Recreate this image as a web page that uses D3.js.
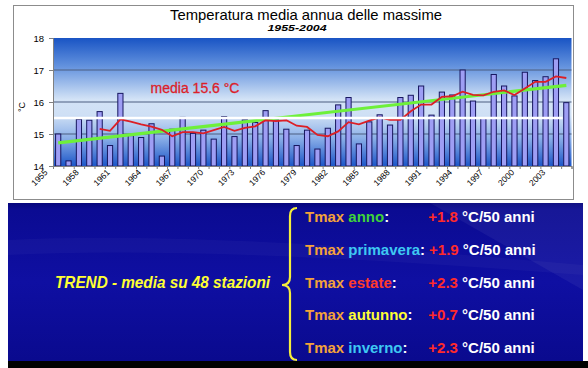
<!DOCTYPE html>
<html><head><meta charset="utf-8">
<script src="https://cdn.jsdelivr.net/npm/d3@7"></script>
<style>body{margin:0;background:#fff}svg{display:block}text{font-family:"Liberation Sans",Arial,sans-serif}</style>
</head><body><svg id="c" width="588" height="368"></svg>
<script>
const years = [1955,1956,1957,1958,1959,1960,1961,1962,1963,1964,1965,1966,1967,1968,1969,1970,1971,1972,1973,1974,1975,1976,1977,1978,1979,1980,1981,1982,1983,1984,1985,1986,1987,1988,1989,1990,1991,1992,1993,1994,1995,1996,1997,1998,1999,2000,2001,2002,2003,2004];
const tmax = [15.00,14.16,15.46,15.43,15.70,14.64,16.27,14.95,14.89,15.32,14.31,15.15,15.52,15.02,15.12,14.84,15.54,14.92,15.44,15.36,15.73,15.44,15.15,14.64,15.12,14.53,15.18,15.91,16.14,14.69,15.38,15.60,15.28,16.14,16.21,16.50,15.59,16.31,16.22,17.00,16.03,15.50,16.86,16.50,16.19,16.93,16.67,16.79,17.35,15.98];
const maYears = [1959,1960,1961,1962,1963,1964,1965,1966,1967,1968,1969,1970,1971,1972,1973,1974,1975,1976,1977,1978,1979,1980,1981,1982,1983,1984,1985,1986,1987,1988,1989,1990,1991,1992,1993,1994,1995,1996,1997,1998,1999,2000,2001,2002,2003,2004];
const tmaxMA = [15.16,15.10,15.46,15.39,15.30,15.23,15.13,14.93,15.06,15.06,15.02,15.12,15.22,15.10,15.19,15.24,15.43,15.40,15.43,15.26,15.22,14.97,14.93,15.08,15.37,15.30,15.42,15.52,15.44,15.44,15.71,15.92,15.92,16.16,16.18,16.32,16.22,16.21,16.32,16.36,16.22,16.42,16.63,16.63,16.80,16.75];
const trendYears = [1955,2004];
const trendVals = [14.72,16.52];
const meanVal = 15.5;
const yTicks = [14,15,16,17,18];
const xTickLabels = ["1955","1958","1961","1964","1967","1970","1973","1976","1979","1982","1985","1988","1991","1994","1997","2000","2003"];
const titleText = "Temperatura media annua delle massime";
const subtitleText = "1955-2004";
const meanLabel = "media 15.6 °C";
const yTitle = "°C";
const trendTitle = "TREND - media su 48 stazioni";
const seasons = ["anno","primavera","estate","autunno","inverno"];
const seasonTrends = ["+1.8","+1.9","+2.3","+0.7","+2.3"];
const seasonColors = ["#3fd43a","#3ec8f2","#ff3b2b","#ffff33","#3ec8f2"];
const unitText = "°C/50 anni";

const svg = d3.select("#c");
const defs = svg.append("defs");
const g1 = defs.append("linearGradient").attr("id","plotBg").attr("x1",0).attr("y1",0).attr("x2",0).attr("y2",1);
[[0,"#1954c4"],[0.22,"#6392de"],[0.48,"#d3e3f6"],[0.6,"#cfe0f5"],[0.78,"#8cb0e8"],[1,"#1c56c8"]].forEach(([o,c])=>g1.append("stop").attr("offset",o).attr("stop-color",c));
const g2 = defs.append("linearGradient").attr("id","panelBg").attr("x1",0).attr("y1",0).attr("x2",0).attr("y2",1);
[[0,"#06067c"],[0.04,"#0b0b92"],[0.5,"#0f0fa2"],[1,"#0a0a8e"]].forEach(([o,c])=>g2.append("stop").attr("offset",o).attr("stop-color",c));

const L=53, R=571.5, T=38, B=166;

svg.append("rect").attr("x",13.5).attr("y",5.5).attr("width",560).attr("height",194)
  .attr("fill","#fff").attr("stroke","#8c8c8c");

const x = d3.scaleBand().domain(years).range([L,R]).paddingInner(0.5).paddingOuter(0.25);
const xl = d3.scaleLinear().domain([0,years.length]).range([L,R]);
const y = d3.scaleLinear().domain([14,18]).range([B,T]);
const cx = d => x(d)+x.bandwidth()/2;

svg.append("rect").attr("x",L).attr("y",T).attr("width",R-L).attr("height",B-T).attr("fill","url(#plotBg)");

svg.append("g").selectAll("line").data(yTicks.filter(v=>v>14&&v<18)).join("line")
  .attr("x1",L).attr("x2",R).attr("y1",d=>y(d)).attr("y2",d=>y(d))
  .attr("stroke","#4c5f80").attr("stroke-width",1.2);

svg.append("g").selectAll("rect").data(years).join("rect")
  .attr("x",d=>x(d)).attr("width",x.bandwidth())
  .attr("y",(d,i)=>y(tmax[i])).attr("height",(d,i)=>y(14)-y(tmax[i]))
  .attr("fill","#9e9ef4").attr("stroke","#16165e").attr("stroke-width",1);

svg.append("path").datum(trendYears.map((yr,i)=>[cx(yr),y(trendVals[i])]))
  .attr("d",d3.line()).attr("stroke","#6ef03a").attr("stroke-width",3.2).attr("fill","none");
svg.append("path").datum(maYears.map((yr,i)=>[cx(yr),y(tmaxMA[i])]))
  .attr("d",d3.line()).attr("stroke","#dc1f26").attr("stroke-width",1.8).attr("fill","none");
svg.append("line").attr("x1",L).attr("x2",x(years[years.length-1])-1)
  .attr("y1",y(meanVal)).attr("y2",y(meanVal)).attr("stroke","#fff").attr("stroke-width",2.5);

const ya = svg.append("g").attr("transform",`translate(${L},0)`)
  .call(d3.axisLeft(y).tickValues(yTicks).tickSize(4).tickPadding(5).tickFormat(d3.format("d")));
ya.select(".domain").attr("stroke","#808080");
ya.selectAll(".tick line").attr("stroke","#808080");
ya.selectAll("text").attr("font-size",9.5).attr("fill","#000").attr("font-family","Liberation Sans, Arial");

const xa = svg.append("g").attr("transform",`translate(0,${B})`)
  .call(d3.axisBottom(xl).tickValues(d3.range(0,years.length+1)).tickSize(3).tickFormat(""));
xa.select(".domain").attr("stroke","#808080");
xa.selectAll(".tick line").attr("stroke","#808080");

svg.append("g").selectAll("text").data(xTickLabels).join("text")
  .attr("transform",d=>`translate(${cx(+d)-10},${B+7}) rotate(-45)`)
  .attr("text-anchor","end").attr("font-size",8.5).attr("fill","#000").text(d=>d);

svg.append("text").attr("transform","translate(25,107) rotate(-90)").attr("text-anchor","middle")
  .attr("font-size",9).text(yTitle);

svg.append("text").attr("x",306).attr("y",20).attr("text-anchor","middle")
  .attr("font-size",14.5).attr("textLength",272).attr("lengthAdjust","spacingAndGlyphs").text(titleText);
svg.append("text").attr("x",297).attr("y",31).attr("text-anchor","middle")
  .attr("font-size",9.5).attr("font-weight","bold").attr("font-style","italic")
  .attr("textLength",59).attr("lengthAdjust","spacingAndGlyphs").text(subtitleText);
svg.append("text").attr("x",150.5).attr("y",93.3).attr("font-size",14).attr("fill","#dc1f2a")
  .attr("stroke","#dc1f2a").attr("stroke-width",0.3)
  .attr("textLength",89).attr("lengthAdjust","spacingAndGlyphs").text(meanLabel);

svg.append("rect").attr("x",8).attr("y",203).attr("width",575).attr("height",158).attr("fill","url(#panelBg)");
svg.append("path").attr("d","M430,203 L583,203 L583,290 Z").attr("fill","#fff").attr("opacity",0.05);
svg.append("path").attr("d","M8,240 Q200,230 583,265 L583,275 Q200,245 8,255 Z").attr("fill","#fff").attr("opacity",0.03);
svg.append("rect").attr("x",8).attr("y",361).attr("width",580).attr("height",7).attr("fill","#000");

svg.append("text").attr("x",55).attr("y",288).attr("font-size",16.5).attr("font-weight","bold")
  .attr("font-style","italic").attr("fill","#ffff33").attr("textLength",215)
  .attr("lengthAdjust","spacingAndGlyphs").text(trendTitle);

svg.append("path").attr("d","M297,208 Q290,208 290,216 L290,277 Q290,285 282,285 Q290,285 290,293 L290,352 Q290,360 297,360")
  .attr("fill","none").attr("stroke","#f5ee3c").attr("stroke-width",2.2);

const baselines = [222.3,255,287.7,320.3,352.8];
seasons.forEach((s,i)=>{
  const t = svg.append("text").attr("x",305).attr("y",baselines[i]).attr("font-size",15).attr("font-weight","bold");
  t.append("tspan").attr("fill","#f4a23a").text("Tmax ");
  t.append("tspan").attr("fill",seasonColors[i]).text(s);
  t.append("tspan").attr("fill","#fff").text(":");
  const w = t.node().getComputedTextLength();
  const vx = Math.max(428.3, 305 + w + 4);
  const v = svg.append("text").attr("x",vx).attr("y",baselines[i]).attr("font-size",15).attr("font-weight","bold");
  v.append("tspan").attr("fill","#ff2a2a").text(seasonTrends[i]);
  v.append("tspan").attr("fill","#fff").text(" " + unitText);
});
</script></body></html>
